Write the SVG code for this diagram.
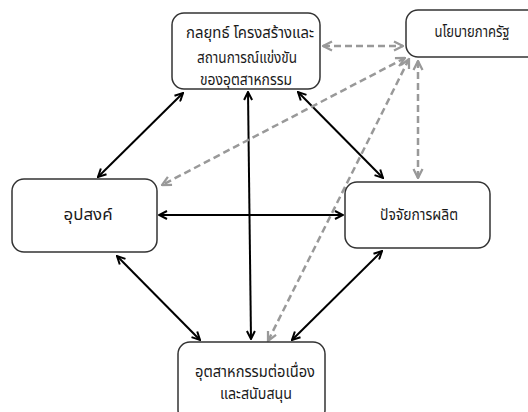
<svg xmlns="http://www.w3.org/2000/svg" width="528" height="412" viewBox="0 0 528 412">
<defs>
<marker id="ah" viewBox="0 0 10 10" refX="9" refY="5" markerWidth="5" markerHeight="5" orient="auto-start-reverse" markerUnits="strokeWidth">
<path d="M1,1 L9,5 L1,9" fill="none" stroke="#000" stroke-width="2"/>
</marker>
<marker id="ahg" viewBox="0 0 10 10" refX="9" refY="5" markerWidth="4.5" markerHeight="4.5" orient="auto-start-reverse" markerUnits="strokeWidth">
<path d="M1,1 L9,5 L1,9" fill="none" stroke="#999" stroke-width="2"/>
</marker>
</defs>
<style>
.box{fill:#fff;stroke:#333;stroke-width:1.5}
.t{font-family:"Noto Sans Thai","Noto Serif Thai","Noto Sans",sans-serif;font-size:15px;fill:#1a1a1a;text-anchor:middle}
.s{fill:none;stroke:#000;stroke-width:2;marker-start:url(#ah);marker-end:url(#ah)}
.d{fill:none;stroke:#999;stroke-width:2.5;stroke-dasharray:7 4;marker-start:url(#ahg);marker-end:url(#ahg)}
</style>
<rect width="528" height="412" fill="#fff"/>
<g id="connectors">
<line class="s" x1="183" y1="93" x2="98" y2="177"/>
<line class="s" x1="248" y1="92" x2="251" y2="339"/>
<line class="s" x1="298" y1="92" x2="383" y2="178"/>
<line class="s" x1="159" y1="215" x2="343" y2="215"/>
<line class="s" x1="117" y1="256" x2="200" y2="340"/>
<line class="s" x1="382" y1="251" x2="292" y2="340"/>
<line class="d" x1="323" y1="46" x2="403" y2="46"/>
<line class="d" x1="405" y1="58" x2="162" y2="185"/>
<line class="d" x1="409" y1="59" x2="268" y2="341"/>
<line class="d" x1="418" y1="61" x2="418" y2="178"/>
</g>
<g id="n1">
<rect class="box" x="172" y="13" width="148" height="76" rx="12"/>
<text class="t" x="250" y="38" textLength="128" lengthAdjust="spacingAndGlyphs">กลยุทธ์ โครงสร้างและ</text>
<text class="t" x="247" y="63" textLength="100" lengthAdjust="spacingAndGlyphs">สถานการณ์แข่งขัน</text>
<text class="t" x="246" y="85" textLength="92" lengthAdjust="spacingAndGlyphs">ของอุตสาหกรรม</text>
</g>
<g id="n2">
<rect class="box" x="406" y="10" width="140" height="47" rx="12"/>
<text class="t" x="472" y="37" textLength="75" lengthAdjust="spacingAndGlyphs">นโยบายภาครัฐ</text>
</g>
<g id="n3">
<rect class="box" x="12" y="179" width="145" height="73" rx="12"/>
<text class="t" x="88" y="220" textLength="49" lengthAdjust="spacingAndGlyphs">อุปสงค์</text>
</g>
<g id="n4">
<rect class="box" x="345" y="182" width="145" height="66" rx="12"/>
<text class="t" x="419" y="220" textLength="78" lengthAdjust="spacingAndGlyphs">ปัจจัยการผลิต</text>
</g>
<g id="n5">
<rect class="box" x="178" y="342" width="147" height="80" rx="12"/>
<text class="t" x="255" y="377" textLength="120" lengthAdjust="spacingAndGlyphs">อุตสาหกรรมต่อเนื่อง</text>
<text class="t" x="256" y="399" textLength="72" lengthAdjust="spacingAndGlyphs">และสนับสนุน</text>
</g>
</svg>
